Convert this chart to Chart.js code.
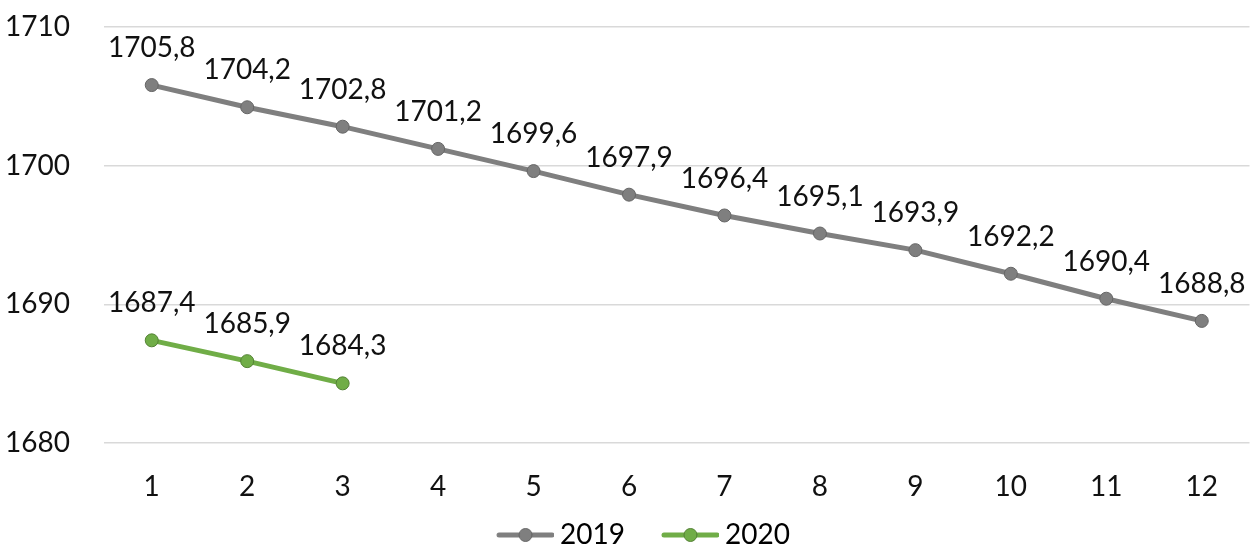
<!DOCTYPE html>
<html>
<head>
<meta charset="utf-8">
<script src="https://cdn.jsdelivr.net/npm/chart.js@4/dist/chart.umd.min.js"></script>
<style>
html,body{margin:0;padding:0;background:#fff;}
#wrap{width:1257px;height:549px;}
</style>
</head>
<body>
<div id="wrap"><canvas id="c" width="1257" height="549"></canvas></div>
<script>
const categories = ['1','2','3','4','5','6','7','8','9','10','11','12'];
const values2019 = [1705.8,1704.2,1702.8,1701.2,1699.6,1697.9,1696.4,1695.1,1693.9,1692.2,1690.4,1688.8];
const values2020 = [1687.4,1685.9,1684.3];
const seriesNames = ['2019','2020'];
const yTicks = [1680,1690,1700,1710];

const FONT = 'Lato, "Open Sans", sans-serif';
const FS = 28;
const TXT = '#111';
const BW = 78;

function legendIcon(color, border){
  const c = document.createElement('canvas');
  c.width = BW + 16; c.height = 16;
  const g = c.getContext('2d');
  const x0 = c.width - 55, x1 = c.width - 2;
  g.strokeStyle = color; g.lineWidth = 5; g.lineCap = 'round';
  g.beginPath(); g.moveTo(x0,8); g.lineTo(x1,8); g.stroke();
  g.fillStyle = color; g.strokeStyle = border; g.lineWidth = 1;
  g.beginPath(); g.arc((x0+x1)/2,8,6.5,0,Math.PI*2); g.fill(); g.stroke();
  return c;
}
const icons = [legendIcon('#7f7f7f','#666666'), legendIcon('#70ad47','#548235')];

const labelPlugin = {
  id:'pointLabels',
  afterDatasetsDraw(chart){
    const ctx = chart.ctx;
    ctx.save();
    ctx.font = FS + 'px ' + FONT;
    ctx.fillStyle = TXT;
    ctx.textAlign = 'center';
    ctx.textBaseline = 'middle';
    chart.data.datasets.forEach((ds,i)=>{
      const meta = chart.getDatasetMeta(i);
      meta.data.forEach((pt,j)=>{
        const v = ds.data[j];
        ctx.fillText(v.toFixed(1).replace('.',','), pt.x, pt.y - 37);
      });
    });
    ctx.restore();
  }
};

new Chart(document.getElementById('c'), {
  type:'line',
  data:{
    labels: categories,
    datasets:[
      {label:seriesNames[0], data:values2019, borderColor:'#7f7f7f', backgroundColor:'#7f7f7f',
       pointBackgroundColor:'#7f7f7f', pointBorderColor:'#666666', pointBorderWidth:1, pointRadius:6.5,
       borderWidth:5, tension:0, pointStyle:'circle'},
      {label:seriesNames[1], data:values2020, borderColor:'#70ad47', backgroundColor:'#70ad47',
       pointBackgroundColor:'#70ad47', pointBorderColor:'#548235', pointBorderWidth:1, pointRadius:6.5,
       borderWidth:5, tension:0, pointStyle:'circle'}
    ]
  },
  options:{
    responsive:false,
    animation:false,
    layout:{padding:{top:25,right:4,left:5,bottom:0}},
    plugins:{
      tooltip:{enabled:false},
      legend:{
        position:'bottom',
        maxHeight:36,
        labels:{
          font:{family:FONT,size:FS},
          color:TXT,
          usePointStyle:true,
          pointStyleWidth:BW,
          padding:8,
          generateLabels(chart){
            return chart.data.datasets.map((ds,i)=>({
              text: ds.label, pointStyle: icons[i], fillStyle: ds.borderColor,
              strokeStyle: ds.borderColor, lineWidth:0, datasetIndex:i, hidden:false
            }));
          }
        }
      }
    },
    scales:{
      x:{
        offset:true,
        grid:{display:false, drawTicks:false},
        border:{display:false},
        ticks:{font:{family:FONT,size:FS}, color:TXT, padding:27, maxRotation:0},
        afterFit(s){ s.height = 70; }
      },
      y:{
        min:1680, max:1710,
        afterBuildTicks(s){ s.ticks = yTicks.map(v=>({value:v})); },
        grid:{color:'#d9d9d9', lineWidth:1.5, drawTicks:false},
        border:{display:false},
        ticks:{font:{family:FONT,size:FS}, color:TXT, padding:10, crossAlign:'far',
               callback:(v)=>String(v)},
        afterFit(s){ s.width = 99; }
      }
    }
  },
  plugins:[labelPlugin]
});
</script>
</body>
</html>
